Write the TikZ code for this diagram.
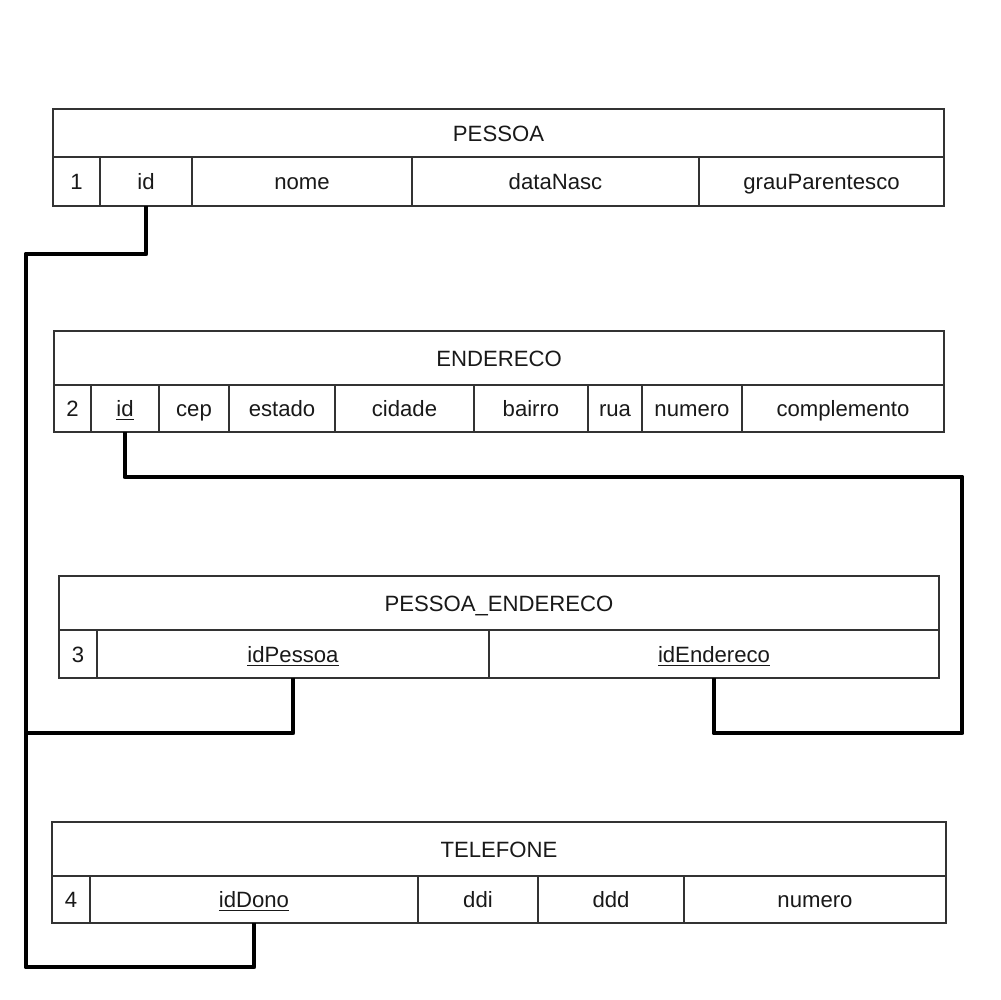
\documentclass[tikz,border=0pt]{standalone}
\usepackage{fontspec}
\setmainfont{Liberation Sans}
\begin{document}
\begin{tikzpicture}[x=0.02cm,y=-0.02cm,
  cell/.style={draw=black!80, line width=0.7pt, inner sep=0pt, outer sep=0pt,
    font=\fontsize{12.6}{15}\selectfont, text=black!90,
    text height=1.0em, text depth=0.05em},
  link/.style={draw=black, line width=2.8pt, line join=round}]
\newcommand\tcell[6]{%
  \pgfmathsetmacro\cw{(#4-#2)*0.02}%
  \pgfmathsetmacro\ch{(#5-#3)*0.02}%
  \node[cell, minimum width=\cw cm, minimum height=\ch cm] (#1) at ({(#2+#4)/2},{(#3+#5)/2}) {#6};}
\useasboundingbox[fill=white] (0,0) rectangle (1000,1000);

% PESSOA
\tcell{ph}{53}{109}{944}{157}{PESSOA}
\tcell{pn}{53}{157}{100}{206}{1}
\tcell{pid}{100}{157}{192}{206}{id}
\tcell{pnome}{192}{157}{412}{206}{nome}
\tcell{pdata}{412}{157}{699}{206}{dataNasc}
\tcell{pgrau}{699}{157}{944}{206}{grauParentesco}

% ENDERECO
\tcell{eh}{54}{331}{944}{385}{ENDERECO}
\tcell{en}{54}{385}{91}{432}{2}
\tcell{eid}{91}{385}{159}{432}{\underline{id}}
\tcell{ecep}{159}{385}{229}{432}{cep}
\tcell{eest}{229}{385}{335}{432}{estado}
\tcell{ecid}{335}{385}{474}{432}{cidade}
\tcell{ebai}{474}{385}{588}{432}{bairro}
\tcell{erua}{588}{385}{642}{432}{rua}
\tcell{enum}{642}{385}{742}{432}{numero}
\tcell{ecomp}{742}{385}{944}{432}{complemento}

% PESSOA_ENDERECO
\tcell{xh}{59}{576}{939}{630}{PESSOA\_ENDERECO}
\tcell{xn}{59}{630}{97}{678}{3}
\tcell{xidp}{97}{630}{489}{678}{\underline{idPessoa}}
\tcell{xide}{489}{630}{939}{678}{\underline{idEndereco}}

% TELEFONE
\tcell{th}{52}{822}{946}{876}{TELEFONE}
\tcell{tn}{52}{876}{90}{923}{4}
\tcell{tid}{90}{876}{418}{923}{\underline{idDono}}
\tcell{tddi}{418}{876}{538}{923}{ddi}
\tcell{tddd}{538}{876}{684}{923}{ddd}
\tcell{tnum}{684}{876}{946}{923}{numero}

% connector bends
\coordinate (a1) at (26,254);
\coordinate (a2) at (26,967);
\coordinate (aj) at (26,733);
\coordinate (b1) at (962,477);
\coordinate (b2) at (962,733);

% PESSOA.id -> TELEFONE.idDono, with a branch to PESSOA_ENDERECO.idPessoa
\draw[link] (pid.south) |- (a1) -- (a2) -| (tid.south);
\draw[link] (aj) -| (xidp.south);
% ENDERECO.id -> PESSOA_ENDERECO.idEndereco
\draw[link] (eid.south) |- (b1) -- (b2) -| (xide.south);
\end{tikzpicture}
\end{document}
